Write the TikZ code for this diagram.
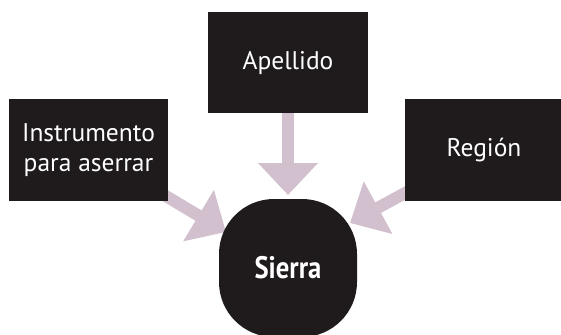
\documentclass[tikz,border=0pt]{standalone}
\usepackage{fontspec}
\usepackage{graphicx}
\setmainfont{PT Sans}
\usetikzlibrary{arrows.meta,backgrounds}
\definecolor{fondocaja}{RGB}{31,27,28}
\definecolor{rosaflecha}{RGB}{210,192,206}
\newcommand{\estrecho}[1]{\scalebox{0.86}[1]{#1}}

\begin{document}
\begin{tikzpicture}[x=1pt,y=-1pt,
		concepto/.style={fill=fondocaja,text=white,align=center,inner sep=0pt,
			font=\fontsize{25.5}{30}\selectfont},
		centro/.style={fill=fondocaja,text=white,rounded corners=55pt,
			minimum width=138pt,minimum height=138pt,
			font=\fontsize{31}{34}\selectfont\bfseries},
		flujo/.style={draw=rosaflecha,line width=12pt,shorten <=-12pt,
			-{Triangle[length=32pt,width=58pt]}}]
	\useasboundingbox (0,0) rectangle (561,334);
	
	\node[concepto,minimum width=160pt,minimum height=101pt] (apellido) at (288,62.5) {Apellido};
	\node[concepto,minimum width=159pt,minimum height=102pt] (instrumento) at (88.5,150) {Instrumento\\para aserrar};
	\node[concepto,minimum width=158pt,minimum height=102pt] (region) at (484,150) {Región};
	\node[centro] (sierra) at (288,268) {\estrecho{Sierra}};
	
	% puntas de las flechas
	\coordinate (puntaA) at (288,195);
	\coordinate (puntaI) at (226,232);
	\coordinate (puntaR) at (350,223);
	
	\begin{pgfonlayer}{background}
		\draw[flujo] (apellido) -- (puntaA);
		\draw[flujo] (instrumento) -- (puntaI);
		\draw[flujo] (region) -- (puntaR);
	\end{pgfonlayer}
\end{tikzpicture}
\end{document}
